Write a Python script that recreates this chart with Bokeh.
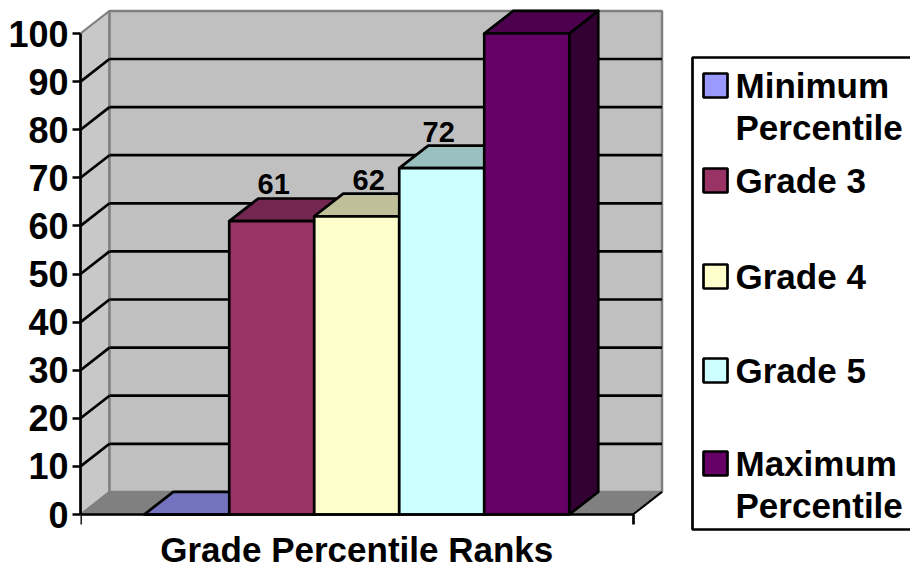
from bokeh.embed import file_html
from bokeh.resources import INLINE
from bokeh.plotting import figure
from bokeh.models import Range1d, FixedTicker, ColumnDataSource
from bokeh.core.properties import value

# ---- data ----
series = ["Minimum\nPercentile", "Grade 3", "Grade 4", "Grade 5", "Maximum\nPercentile"]
values = [0, 61, 62, 72, 100]
label_values = [None, 61, 62, 72, None]
y_ticks = [0, 10, 20, 30, 40, 50, 60, 70, 80, 90, 100]
axis_title = "Grade Percentile Ranks"

# ---- style ----
front = ["#9999FF", "#993366", "#FFFFCC", "#CCFFFF", "#660066"]
top = ["#7373BF", "#732650", "#BFBF99", "#99BFBF", "#4D004D"]
side = ["#4D4D80", "#4D1A33", "#808066", "#668080", "#330033"]
label_dx = [0, 2, 12, -3, 0]
FONT = "Liberation Sans"
LW = 2.7
PX_X, PX_Y = 85.0, 4.81           # px per x unit / per percent
DX, DY = 29 / PX_X, 22.6 / PX_Y   # depth of the 3D box
X0, X1 = -1.25, 5.25              # front plane extent
AXIS_LEFT, AXIS_BOTTOM = 80, 514  # page px of the front-left-bottom corner
W, H = 910, 569
TEXT_FIX = 12                     # px lift for text drawn with an alphabetic baseline


def xd(px):
    return X0 + (px - AXIS_LEFT) / PX_X


def yd(py):
    return (AXIS_BOTTOM - py) / PX_Y


p = figure(width=W, height=H, output_backend="svg", toolbar_location=None,
           x_range=Range1d(xd(AXIS_LEFT), xd(W)), y_range=Range1d(yd(H), yd(0)),
           min_border_left=AXIS_LEFT, min_border_right=0, min_border_top=0, min_border_bottom=0)
p.outline_line_color = None
p.grid.visible = False

# walls and floor
YMAX = max(y_ticks)
p.patch([X0, X0 + DX, X0 + DX, X0], [0, DY, YMAX + DY, YMAX], fill_color="#C8C8C8", line_color="#808080", line_width=2)
p.patch([X0 + DX, X1 + DX, X1 + DX, X0 + DX], [DY, DY, YMAX + DY, YMAX + DY], fill_color="#C0C0C0", line_color="#808080", line_width=2.5)
p.patch([X0, X1, X1 + DX, X0 + DX], [0, 0, DY, DY], fill_color="#808080", line_color="#808080", line_width=1.5)
p.line([X1, X1 + DX], [0, DY], line_color="black", line_width=2)

# grid lines on the left and back wall
gt = [t for t in y_ticks if 0 < t < YMAX]
p.segment([X0] * len(gt), gt, [X0 + DX] * len(gt), [t + DY for t in gt], line_color="black", line_width=LW)
p.segment([X0 + DX] * len(gt), [t + DY for t in gt], [X1 + DX] * len(gt), [t + DY for t in gt], line_color="black", line_width=LW)

# bars, left to right
for i, v in enumerate(values):
    l, r = i - 0.5, i + 0.5
    p.patch([r, r + DX, r + DX, r], [0, DY, v + DY, v], fill_color=side[i], line_color="black", line_width=LW, line_join="round")
    p.patch([l, r, r + DX, l + DX], [v, v, v + DY, v + DY], fill_color=top[i], line_color="black", line_width=LW, line_join="round")
    p.quad(left=[l], right=[r], bottom=[0], top=[v], fill_color=front[i], line_color="black", line_width=LW)

# value labels
lab = [(i, v) for i, v in enumerate(label_values) if v is not None]
src = ColumnDataSource(dict(x=[i for i, _ in lab], y=[v + DY for _, v in lab],
                            t=[str(v) for _, v in lab], dx=[label_dx[i] for i, _ in lab]))
p.text("x", "y", text="t", source=src, x_offset="dx", y_offset=-4, text_align="center", text_baseline="bottom",
       text_font=value(FONT), text_font_style="bold", text_font_size="29px", text_color="black")

# axes
ya = p.yaxis[0]
ya.ticker = FixedTicker(ticks=y_ticks)
ya.bounds = (0, YMAX)
ya.axis_line_color = "black"; ya.axis_line_width = LW
ya.major_tick_line_color = "black"; ya.major_tick_line_width = LW
ya.major_tick_out = 8; ya.major_tick_in = 0; ya.minor_tick_line_color = None
ya.major_label_standoff = 4
ya.major_label_text_font = FONT; ya.major_label_text_font_style = "bold"
ya.major_label_text_font_size = "36px"; ya.major_label_text_color = "black"

xa = p.xaxis[0]
xa.fixed_location = 0
xa.ticker = FixedTicker(ticks=[X0, X1])
xa.bounds = (X0, X1)
xa.axis_line_color = "black"; xa.axis_line_width = LW
xa.major_tick_line_color = "black"; xa.major_tick_line_width = LW
xa.major_tick_out = 10; xa.major_tick_in = 0; xa.minor_tick_line_color = None
xa.major_label_overrides = {X0: "", X1: ""}
xa.major_label_standoff = 0

FS = "35px"
p.text([(X0 + X1) / 2], [yd(561 - TEXT_FIX)], text=[axis_title], text_align="center", text_baseline="alphabetic",
       text_font=value(FONT), text_font_style="bold", text_font_size="35px", text_color="black")

# legend box
p.quad(left=[xd(692)], right=[xd(W + 10)], bottom=[yd(529)], top=[yd(57)],
       fill_color="white", line_color="black", line_width=LW)
sw_top = [73, 168, 264, 358, 451]        # px, top of each swatch
line_step = 42                           # px between the lines of one entry
for i, name in enumerate(series):
    t = sw_top[i]
    p.quad(left=[xd(703)], right=[xd(727)], bottom=[yd(t + 24)], top=[yd(t)],
           fill_color=front[i], line_color="black", line_width=LW)
    for k, line in enumerate(name.split("\n")):
        p.text([xd(735)], [yd(t + 24 + k * line_step - TEXT_FIX)], text=[line], text_align="left", text_baseline="alphabetic",
               text_font=value(FONT), text_font_style="bold", text_font_size=FS, text_color="black")

open("out.html", "w").write(file_html(p, INLINE))
